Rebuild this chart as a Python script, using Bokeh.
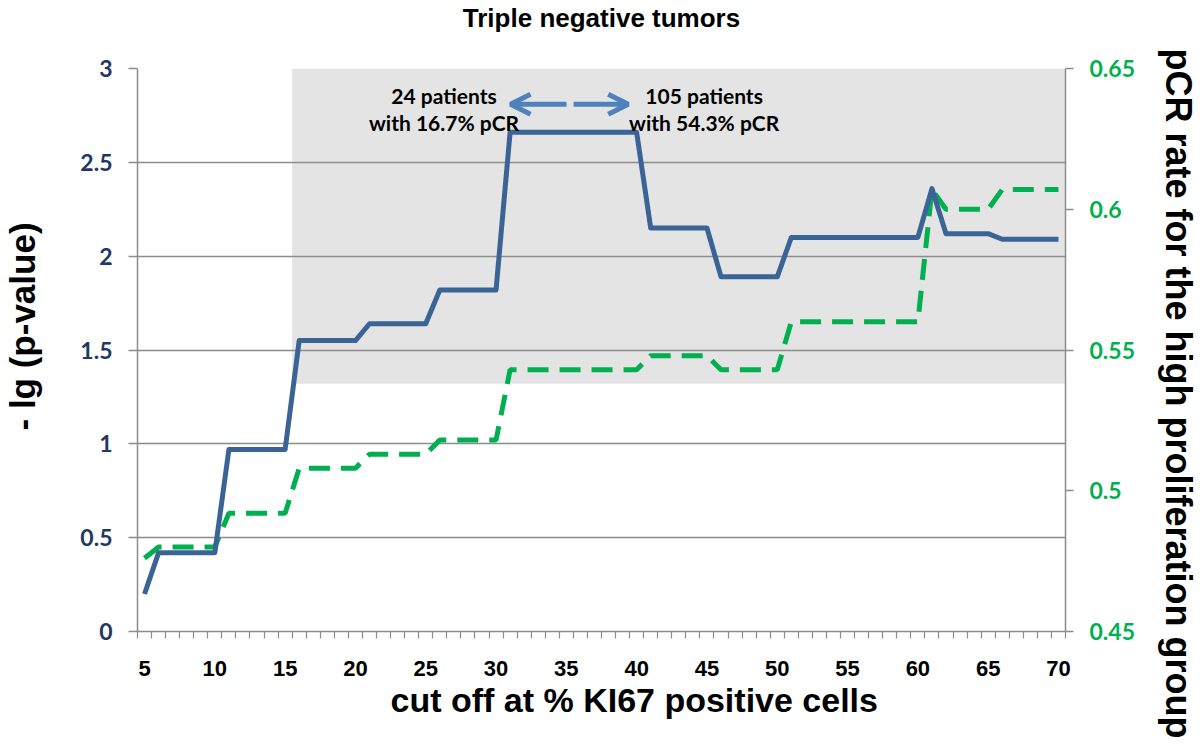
from bokeh.plotting import figure
from bokeh.models import (Range1d, LinearAxis, FixedTicker, Label, Arrow, OpenHead, Title)
from bokeh.embed import file_html
from bokeh.resources import INLINE

# ---------------- data ----------------
cutoff = [5, 6, 7, 8, 9, 10, 11, 12, 13, 14, 15, 16, 17, 18, 19, 20,
          21, 22, 23, 24, 25, 26, 27, 28, 29, 30, 31, 32, 33, 34, 35, 36,
          37, 38, 39, 40, 41, 42, 43, 44, 45, 46, 47, 48, 49, 50, 51, 52,
          53, 54, 55, 56, 57, 58, 59, 60, 61, 62, 63, 64, 65, 66, 67, 68,
          69, 70]
neg_log_p = [0.20, 0.42, 0.42, 0.42, 0.42, 0.42, 0.97, 0.97, 0.97, 0.97, 0.97,
             1.55, 1.55, 1.55, 1.55, 1.55, 1.64, 1.64, 1.64, 1.64, 1.64,
             1.82, 1.82, 1.82, 1.82, 1.82, 2.66, 2.66, 2.66, 2.66, 2.66,
             2.66, 2.66, 2.66, 2.66, 2.66, 2.15, 2.15, 2.15, 2.15, 2.15,
             1.89, 1.89, 1.89, 1.89, 1.89, 2.10, 2.10, 2.10, 2.10, 2.10,
             2.10, 2.10, 2.10, 2.10, 2.10, 2.36, 2.12, 2.12, 2.12, 2.12,
             2.09, 2.09, 2.09, 2.09, 2.09]
pcr_rate = [0.476, 0.480, 0.480, 0.480, 0.480, 0.480, 0.492, 0.492, 0.492, 0.492, 0.492,
            0.508, 0.508, 0.508, 0.508, 0.508, 0.513, 0.513, 0.513, 0.513, 0.513,
            0.518, 0.518, 0.518, 0.518, 0.518, 0.543, 0.543, 0.543, 0.543, 0.543,
            0.543, 0.543, 0.543, 0.543, 0.543, 0.548, 0.548, 0.548, 0.548, 0.548,
            0.543, 0.543, 0.543, 0.543, 0.543, 0.560, 0.560, 0.560, 0.560, 0.560,
            0.560, 0.560, 0.560, 0.560, 0.560, 0.607, 0.600, 0.600, 0.600, 0.600,
            0.607, 0.607, 0.607, 0.607, 0.607]
x_tick_values = [5, 10, 15, 20, 25, 30, 35, 40, 45, 50, 55, 60, 65, 70]
left_ticks = [0, 0.5, 1, 1.5, 2, 2.5, 3]
left_tick_labels = {0: "0", 0.5: "0.5", 1: "1", 1.5: "1.5", 2: "2", 2.5: "2.5", 3: "3"}
right_ticks = [0.45, 0.5, 0.55, 0.6, 0.65]
right_tick_labels = {0.45: "0.45", 0.5: "0.5", 0.55: "0.55", 0.6: "0.6", 0.65: "0.65"}
sig_threshold = 1.32         # approx. -lg(0.05)
shade_from_cutoff = 16
low_group_text = ["24 patients", "with 16.7% pCR"]
high_group_text = ["105 patients", "with 54.3% pCR"]
arrow_span = (31.03, 39.4)   # cutoffs spanned by the double arrow

title_text = "Triple negative tumors"
x_label = "cut off at % KI67 positive cells"
y_label = "- lg (p-value)"
y2_label = "pCR rate for the high proliferation group"

BLUE = "#3B6496"
GREEN = "#00B050"
ARROW = "#4F81BD"
GRID = "#8C8C8C"
NAVY = "#1F3864"

x_lo, x_hi = cutoff[0] - 0.5, cutoff[-1] + 0.5

p = figure(width=1200, height=748, x_range=Range1d(x_lo, x_hi), y_range=Range1d(0, 3),
           output_backend="svg", toolbar_location=None,
           min_border_left=137, min_border_right=135, min_border_top=68, min_border_bottom=117)
p.outline_line_color = None
p.background_fill_color = "white"
p.border_fill_color = "white"
p.extra_y_ranges = {"pcr": Range1d(0.45, 0.65)}

# shaded significance area
p.quad(left=[shade_from_cutoff - 0.5], right=[x_hi], bottom=[sig_threshold], top=[3],
       fill_color="#E4E4E4", line_color=None, level="image")

# grids
p.xgrid.grid_line_color = None
p.ygrid.ticker = FixedTicker(ticks=left_ticks)
p.ygrid.grid_line_color = GRID
p.ygrid.grid_line_width = 1.5

# x axis
xa = p.xaxis[0]
xa.ticker = FixedTicker(ticks=x_tick_values, minor_ticks=[c - 0.5 for c in cutoff] + [x_hi])
xa.axis_line_color = GRID
xa.axis_line_width = 1.5
xa.major_tick_out = 0
xa.major_tick_in = 0
xa.minor_tick_out = 7
xa.minor_tick_in = 0
xa.minor_tick_line_color = GRID
xa.minor_tick_line_width = 1.2
xa.major_label_standoff = 22
xa.major_label_text_font = "Liberation Sans"
xa.major_label_text_font_style = "bold"
xa.major_label_text_font_size = "22px"
xa.major_label_text_color = "black"

# left axis
ya = p.yaxis[0]
ya.ticker = FixedTicker(ticks=left_ticks)
ya.major_label_overrides = left_tick_labels
ya.axis_line_color = GRID
ya.axis_line_width = 1.5
ya.major_tick_out = 9
ya.major_tick_in = 0
ya.major_tick_line_color = GRID
ya.major_tick_line_width = 1.5
ya.minor_tick_line_color = None
ya.major_label_standoff = 16
ya.major_label_text_font = "Lato"
ya.major_label_text_font_style = "bold"
ya.major_label_text_font_size = "23px"
ya.major_label_text_color = NAVY

# right axis
ra = LinearAxis(y_range_name="pcr", ticker=FixedTicker(ticks=right_ticks))
ra.major_label_overrides = right_tick_labels
ra.axis_line_color = GRID
ra.axis_line_width = 1.5
ra.major_tick_out = 8
ra.major_tick_in = 0
ra.major_tick_line_color = GRID
ra.major_tick_line_width = 1.5
ra.minor_tick_line_color = None
ra.major_label_standoff = 16
ra.major_label_text_font = "Lato"
ra.major_label_text_font_style = "bold"
ra.major_label_text_font_size = "23px"
ra.major_label_text_color = GREEN
p.add_layout(ra, "right")

# series
p.line(cutoff, pcr_rate, y_range_name="pcr", line_color=GREEN, line_width=5,
       line_dash="21 11")
p.line(cutoff, neg_log_p, line_color=BLUE, line_width=5, line_join="round")

# double arrow + texts
arr = Arrow(x_start=arrow_span[0], y_start=2.81, x_end=arrow_span[1], y_end=2.81,
            line_color=ARROW, line_width=5, line_dash="56 7",
            start=OpenHead(size=20, line_color=ARROW, line_width=5),
            end=OpenHead(size=20, line_color=ARROW, line_width=5))
p.add_layout(arr)

for i, t in enumerate(low_group_text):
    p.add_layout(Label(x=26.3, y=2.856 - i * 0.144, text=t, text_align="center",
                       text_baseline="middle", text_font="Lato", text_font_style="bold",
                       text_font_size="21px", text_color="black"))
for i, t in enumerate(high_group_text):
    p.add_layout(Label(x=44.8, y=2.856 - i * 0.144, text=t, text_align="center",
                       text_baseline="middle", text_font="Lato", text_font_style="bold",
                       text_font_size="21px", text_color="black"))


def spacer(px):
    return Title(text=" ", text_font_size="1px", standoff=px)


# title and axis titles (spacer panels push them outward)
p.add_layout(spacer(33), "above")
p.title.text = title_text
p.title.align = "center"
p.title.text_font = "Liberation Sans"
p.title.text_font_style = "bold"
p.title.text_font_size = "26px"
p.title.text_color = "black"
p.title.standoff = 0

p.add_layout(Title(text=x_label, align="left", offset=253, standoff=0,
                   text_font="Liberation Sans", text_font_style="bold",
                   text_font_size="34px", text_color="black"), "below")

p.add_layout(spacer(33), "left")
p.add_layout(Title(text=y_label, align="left", offset=201, standoff=0,
                   text_font="Liberation Sans", text_font_style="bold",
                   text_font_size="35px", text_color="black"), "left")

p.add_layout(spacer(17), "right")
p.add_layout(Title(text=y2_label, align="left", offset=-20, standoff=0,
                   text_font="Liberation Sans", text_font_style="bold",
                   text_font_size="36px", text_color="black"), "right")

open("out.html", "w").write(file_html(p, INLINE))
